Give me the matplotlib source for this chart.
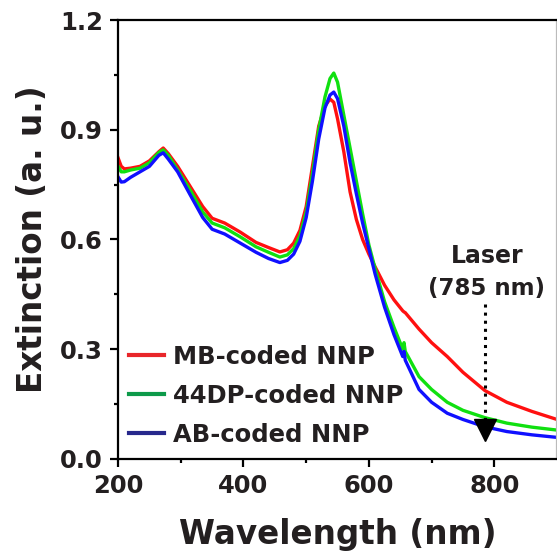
import matplotlib
matplotlib.use("Agg")
import matplotlib.pyplot as plt
from matplotlib.lines import Line2D

# wavelength grid (nm) and extinction
wl = [200, 205, 210, 220, 235, 250, 265, 272, 280, 295, 315, 335, 350, 370,
      395, 420, 440, 458, 470, 480, 490, 500, 510, 520, 530, 538, 544, 550,
      560, 570, 580, 590, 600, 610, 625, 640, 654, 656, 658, 680, 700, 725,
      750, 785, 820, 860, 900]

mb = [0.823, 0.800, 0.793, 0.795, 0.800, 0.815, 0.840, 0.850, 0.835, 0.800,
      0.745, 0.690, 0.658, 0.645, 0.620, 0.592, 0.578, 0.566, 0.572, 0.590,
      0.625, 0.690, 0.800, 0.910, 0.965, 0.984, 0.975, 0.930, 0.840, 0.730,
      0.655, 0.600, 0.560, 0.525, 0.475, 0.435, 0.405, 0.402, 0.400, 0.355,
      0.318, 0.280, 0.237, 0.187, 0.155, 0.130, 0.108]

dp44 = [0.800, 0.785, 0.785, 0.790, 0.795, 0.810, 0.838, 0.845, 0.830, 0.790,
        0.735, 0.675, 0.645, 0.632, 0.607, 0.580, 0.565, 0.552, 0.558, 0.575,
        0.610, 0.675, 0.780, 0.900, 0.990, 1.040, 1.055, 1.030, 0.940, 0.850,
        0.760, 0.670, 0.585, 0.520, 0.430, 0.360, 0.300, 0.318, 0.294, 0.225,
        0.190, 0.155, 0.133, 0.113, 0.098, 0.087, 0.079]

ab = [0.771, 0.757, 0.758, 0.770, 0.785, 0.800, 0.830, 0.837, 0.820, 0.785,
      0.722, 0.660, 0.628, 0.615, 0.590, 0.565, 0.548, 0.537, 0.543, 0.560,
      0.595, 0.660, 0.760, 0.875, 0.960, 0.995, 1.003, 0.985, 0.910, 0.810,
      0.725, 0.645, 0.575, 0.505, 0.415, 0.340, 0.280, 0.294, 0.270, 0.190,
      0.155, 0.125, 0.108, 0.088, 0.075, 0.066, 0.059]

labels = ["MB-coded NNP", "44DP-coded NNP", "AB-coded NNP"]
line_colors = ["#ff1010", "#10e010", "#1010ff"]
legend_colors = ["#e8262a", "#0d9a4a", "#27288c"]

laser_nm = 785
laser_top = 0.425
laser_tip = 0.10

txt = "#231f20"
plt.rcParams['font.family'] = 'DejaVu Sans'
plt.rcParams['font.weight'] = 'bold'
plt.rcParams['axes.labelweight'] = 'bold'

fig = plt.figure(figsize=(5.57, 5.56), dpi=100)
ax = fig.add_axes([0.212, 0.1745, 0.788, 0.7895])

for y, c in zip([mb, dp44, ab], line_colors):
    ax.plot(wl, y, color=c, lw=2.4)

ax.plot([laser_nm, laser_nm], [laser_top, laser_tip], color="black", ls=":", lw=2.2)
ax.plot([laser_nm], [0.079], marker="v", ms=16, color="black", ls="none")
ax.text(laser_nm + 3, 0.555, "Laser", ha="center", va="center", fontsize=17, color=txt)
ax.text(laser_nm + 3, 0.467, "(785 nm)", ha="center", va="center", fontsize=16.5, color=txt)

ax.set_xlim(200, 900)
ax.set_ylim(0, 1.2)
ax.set_xticks([200, 400, 600, 800])
ax.set_xticks([300, 500, 700], minor=True)
ax.set_yticks([0.0, 0.3, 0.6, 0.9, 1.2])
ax.set_yticks([0.15, 0.45, 0.75, 1.05], minor=True)
ax.set_yticklabels(["0.0", "0.3", "0.6", "0.9", "1.2"])
ax.tick_params(which="major", direction="out", length=6, width=1.6, labelsize=17.5,
               labelcolor=txt, pad=5)
ax.tick_params(which="minor", direction="out", length=3, width=1.6)
for s in ax.spines.values():
    s.set_linewidth(1.6)
ax.spines["right"].set_color("#bbbbbb")

ax.set_xlabel("Wavelength (nm)", fontsize=23.5, color=txt, va="center")
ax.xaxis.set_label_coords(0.5, -0.173)
ax.set_ylabel("Extinction (a. u.)", fontsize=23.5, color=txt, va="center")
ax.yaxis.set_label_coords(-0.195, 0.5)

handles = [Line2D([], [], color=c, lw=3) for c in legend_colors]
ax.legend(handles, labels, loc="lower left", bbox_to_anchor=(-0.025, -0.022),
          frameon=False, fontsize=17.5, handlelength=1.45, handletextpad=0.35,
          labelspacing=0.62, labelcolor=txt)

fig.savefig("out.png", dpi=100)
